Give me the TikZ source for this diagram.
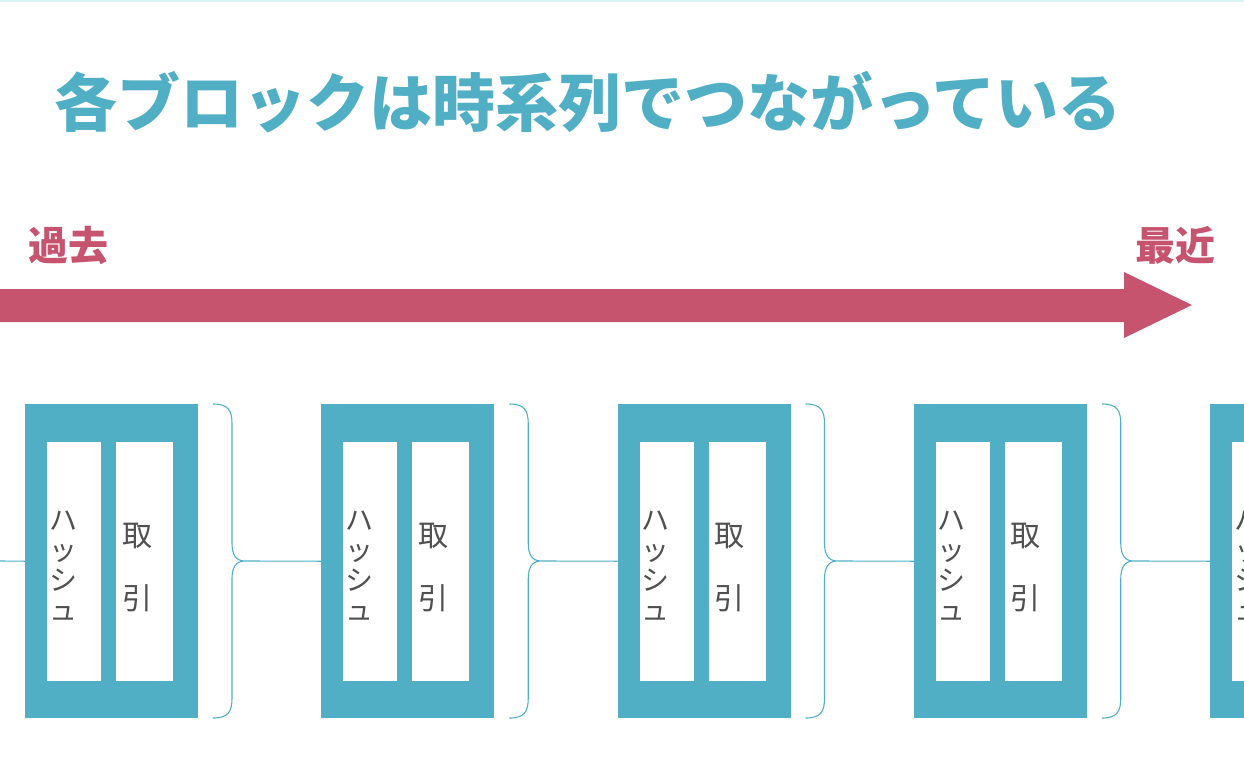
\documentclass[tikz,border=0pt]{standalone}
\usepackage{fontspec}
\newfontfamily\jp{Noto Sans CJK JP}
\definecolor{teal}{HTML}{50AFC4}
\definecolor{pinkc}{HTML}{C6546F}
\definecolor{txtgray}{HTML}{505050}
\definecolor{topline}{HTML}{D6F3F8}
\tikzset{
  blk/.style={fill=teal, draw=none, minimum width=173pt, minimum height=314pt, anchor=north west, inner sep=0pt},
  cell/.style={fill=white, draw=none, minimum height=239pt, anchor=north west, inner sep=0pt},
  brace/.style={draw=teal, line width=1.1pt},
  conn/.style={draw=teal, line width=1.1pt},
  celltxt/.style={text=txtgray, align=center, inner sep=0pt},
}
\begin{document}
\begin{tikzpicture}[x=1pt,y=-1pt]
\useasboundingbox (0,0) rectangle (1244,766);
\clip (0,0) rectangle (1244,766);
\fill[topline] (0,0) rectangle (1244,2);
% title
\node[text=teal, inner sep=0pt, font={\jp\bfseries\fontsize{63}{63}\selectfont}] (title) at (588,102) {各ブロックは時系列でつながっている};
\node[text=pinkc, inner sep=0pt, font={\jp\bfseries\fontsize{40}{40}\selectfont}] (past) at (68,245) {過去};
\node[text=pinkc, inner sep=0pt, font={\jp\bfseries\fontsize{40}{40}\selectfont}] (recent) at (1175,245) {最近};
% time arrow
\fill[pinkc] (0,289) -- (1124,289) -- (1124,272) -- (1192,305) -- (1124,338) -- (1124,322) -- (0,322) -- cycle;
% blocks
\foreach \i in {0,...,4}{
  \pgfmathsetmacro{\bx}{25+296.25*\i}
  \node[blk] (b\i) at (\bx,404) {};
  \node[cell, minimum width=54pt] (h\i) at (\bx+22,442) {};
  \node[cell, minimum width=57pt] (t\i) at (\bx+91,442) {};
  \node[celltxt, font={\jp\fontsize{28}{30}\selectfont}] (hl\i) at (\bx+38,566) {ハ\\ッ\\シ\\ュ};
  \node[celltxt, font={\jp\fontsize{30}{63}\selectfont}] (tl\i) at (\bx+112,568) {取\\引};
}
% braces
\foreach \i in {0,...,3}{
  \pgfmathsetmacro{\rx}{25+296.25*\i+173}
  \coordinate (tip\i) at (\rx+47,561);
  \draw[brace] (\rx+15,404) .. controls (\rx+30,404) and (\rx+34,410) .. (\rx+34,424)
     -- (\rx+34,543) .. controls (\rx+34,555) and (\rx+38,561) .. (tip\i)
     .. controls (\rx+38,561) and (\rx+34,567) .. (\rx+34,579)
     -- (\rx+34,698) .. controls (\rx+34,712) and (\rx+30,718) .. (\rx+15,718);
}
\coordinate (start) at (0,561);
\draw[conn] (start) -- (b0.west);
\draw[conn] (tip0) -- (b1.west);
\draw[conn] (tip1) -- (b2.west);
\draw[conn] (tip2) -- (b3.west);
\draw[conn] (tip3) -- (b4.west);
\end{tikzpicture}
\end{document}
